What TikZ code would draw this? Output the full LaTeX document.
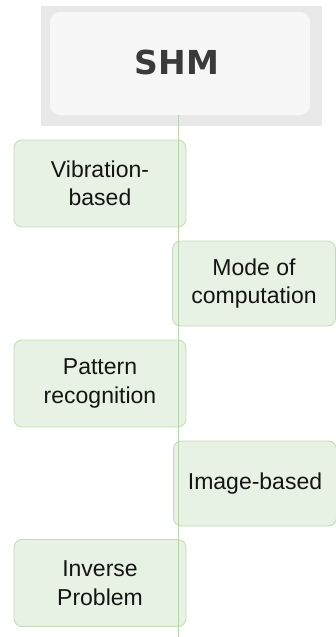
\documentclass[tikz,border=0pt]{standalone}
\usepackage{fontspec}
\setmainfont{Liberation Sans}
\newfontfamily\shmfont{DejaVu Sans}
\usetikzlibrary{positioning}
\definecolor{ink}{HTML}{141414}
\definecolor{inkTitle}{HTML}{3A3A3A}
\definecolor{frameFill}{HTML}{E8E8E8}
\definecolor{cardFill}{HTML}{F7F7F7}
\definecolor{boxLine}{HTML}{C2DDB6}
\definecolor{boxFill}{HTML}{E8F2E4}
\definecolor{spineLine}{HTML}{B5D4A8}
\tikzset{
  every node/.append style = {text=ink},
  % --- title block ---------------------------------------------------------
  shmframe/.style = {fill=frameFill, draw=none, inner sep=0pt,
                     minimum width=281pt, minimum height=120pt},
  shmcard/.style  = {fill=cardFill, draw=none, rounded corners=10pt, inner sep=0pt,
                     minimum width=260pt, minimum height=103pt},
  shmtitle/.style = {font=\shmfont\bfseries\fontsize{33}{36}\selectfont, text=inkTitle},
  % --- branches ------------------------------------------------------------
  branch/.style   = {draw=boxLine, fill=boxFill, line width=0.9pt, rounded corners=8pt,
                     align=center, inner sep=0pt,
                     font=\fontsize{23}{28.5}\selectfont},
  lbranch/.style  = {branch, minimum width=172pt, minimum height=87pt},
  rbranch/.style  = {branch, minimum width=163pt, minimum height=85pt},
  % --- relations -----------------------------------------------------------
  spine/.style    = {draw=spineLine, line width=0.9pt},
}
\begin{document}
\begin{tikzpicture}[x=1pt, y=-1pt]
\useasboundingbox (0,0) rectangle (336,637);

% ==================== title ================================================
\node[shmframe] (frame) at (181.5,66) {};
\node[shmcard]  (shm)   at (180,63.5) {};
\node[shmtitle] (title) at (177,62) {SHM};

% ==================== branches, alternating sides ==========================
\foreach \n/\s/\x/\y/\txt in {vib/lbranch/100/183.5/{Vibration-\\based},
                             mode/rbranch/254/283.5/{Mode of\\computation},
                             patt/lbranch/100/383.5/{Pattern\\recognition},
                             img/rbranch/255/483.5/{Image-based},
                             inv/lbranch/100/583/{Inverse\\Problem}}{
  \node[\s] (\n) at (\x,\y) {\txt};}

% spine runs over the boxes
\coordinate (bottom) at (178,637);
\draw[spine] (shm.south -| bottom) -- (bottom);

\end{tikzpicture}
\end{document}
